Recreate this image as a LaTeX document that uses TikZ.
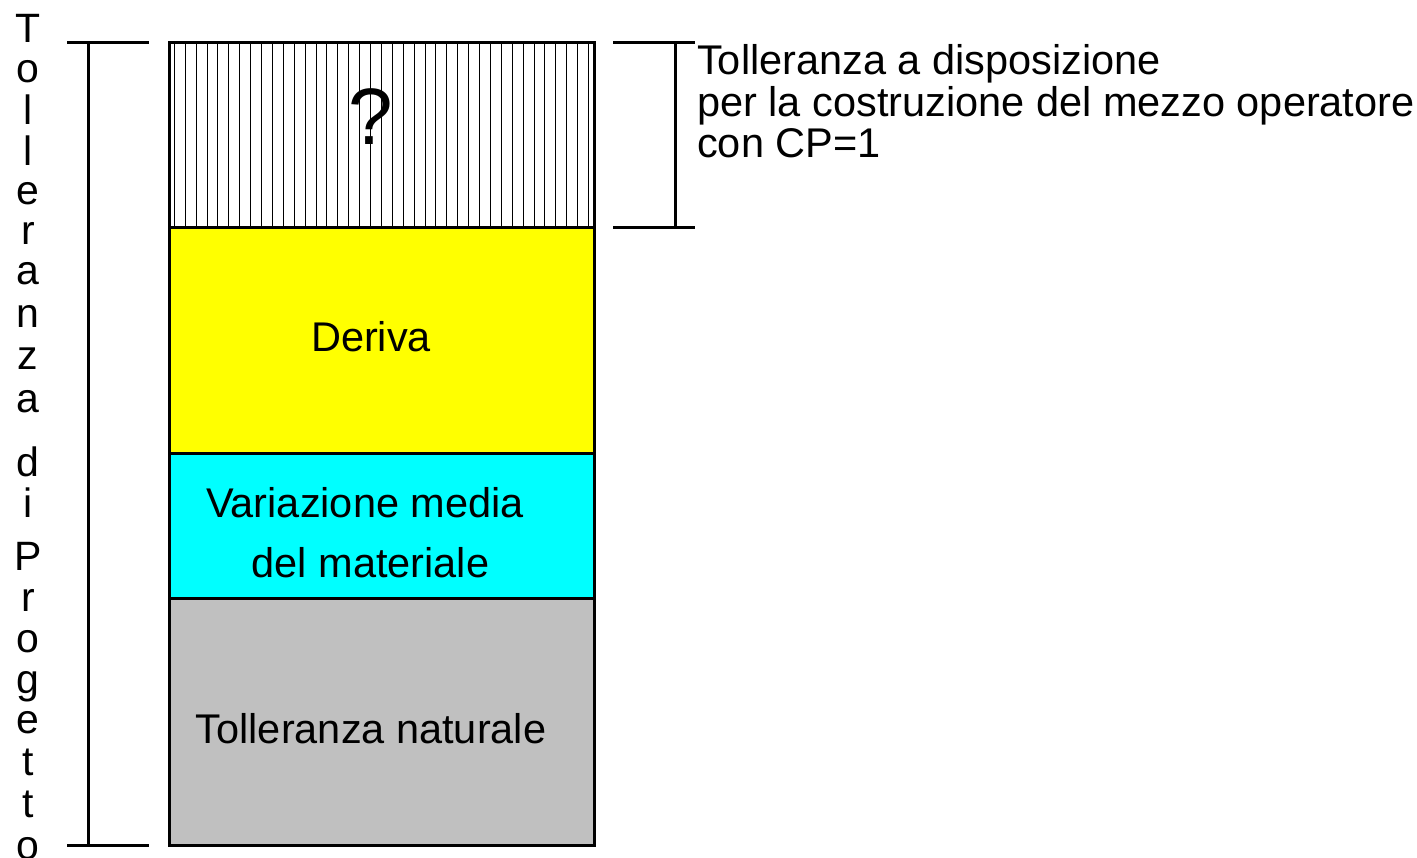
\documentclass[tikz,border=0pt]{standalone}
\usepackage{fontspec}
\setmainfont{Liberation Sans}
\begin{document}
\begin{tikzpicture}[x=1pt,y=-1pt,
  layer/.style={draw=black, line width=3pt, inner sep=0pt, outer sep=0pt, anchor=north west, minimum width=425pt},
  lbl/.style={inner sep=0pt, anchor=base, font=\fontsize{41.5}{41.5}\selectfont},
  rlbl/.style={inner sep=0pt, anchor=base west, font=\fontsize{41.5}{41.5}\selectfont},
  vlet/.style={inner sep=0pt, anchor=base, font=\fontsize{41}{41}\selectfont},
  brk/.style={line width=3pt},
  hatchline/.style={line width=0.9pt}]
\useasboundingbox (0,0) rectangle (1417,858);
% layers
\node[layer, fill=white, minimum height=185pt] (hatch) at (169,43) {};
\foreach \i in {0,...,38} {
  \draw[hatchline] (174.3+\i*10.9,43) -- (174.3+\i*10.9,228);
}
\node[layer, fill=white, fill opacity=0, minimum height=185pt] (hatchb) at (169,43) {};
\node[layer, fill={rgb,255:red,255;green,255;blue,0}, minimum height=226pt] (deriva) at (169,228) {};
\node[layer, fill={rgb,255:red,0;green,255;blue,255}, minimum height=144pt] (varmed) at (169,454) {};
\node[layer, fill={rgb,255:red,192;green,192;blue,192}, minimum height=247pt] (natural) at (169,598) {};
% labels in layers
\node[inner sep=0pt, anchor=base, font=\fontsize{80}{80}\selectfont] (q) at (371,145) {?};
\node[lbl] (tderiva) at (371,352) {Deriva};
\node[lbl] (tvar1) at (365,517) {Variazione media};
\node[lbl] (tvar2) at (370.5,577) {del materiale};
\node[lbl] (tnat) at (371,743) {Tolleranza naturale};
% left bracket
\coordinate (lt1) at (67,43); \coordinate (lt2) at (149,43);
\coordinate (lv1) at (88,43); \coordinate (lv2) at (88,845);
\coordinate (lb1) at (67,845); \coordinate (lb2) at (149,845);
\draw[brk] (lt1) -- (lt2);
\draw[brk] (lv1) -- (lv2);
\draw[brk] (lb1) -- (lb2);
% right bracket
\coordinate (rt1) at (613,43); \coordinate (rt2) at (695,43);
\coordinate (rv1) at (675,43); \coordinate (rv2) at (675,228);
\coordinate (rb1) at (613,228); \coordinate (rb2) at (695,228);
\draw[brk] (rt1) -- (rt2);
\draw[brk] (rv1) -- (rv2);
\draw[brk] (rb1) -- (rb2);
% right label
\node[rlbl] (r1) at (697,75) {Tolleranza a disposizione};
\node[rlbl] (r2) at (697,117) {per la costruzione del mezzo operatore};
\node[rlbl] (r3) at (697,158) {con CP=1};
% vertical label
\foreach \c/\yy [count=\k] in {T/43,o/83,l/125,l/166,e/205,r/245,a/285,n/328,z/370,a/413,d/477,i/518,P/570,r/611,o/652,g/693,e/733,t/775,t/817,o/859} {
  \node[vlet] (v\k) at (28,\yy) {\c};
}
\end{tikzpicture}
\end{document}
